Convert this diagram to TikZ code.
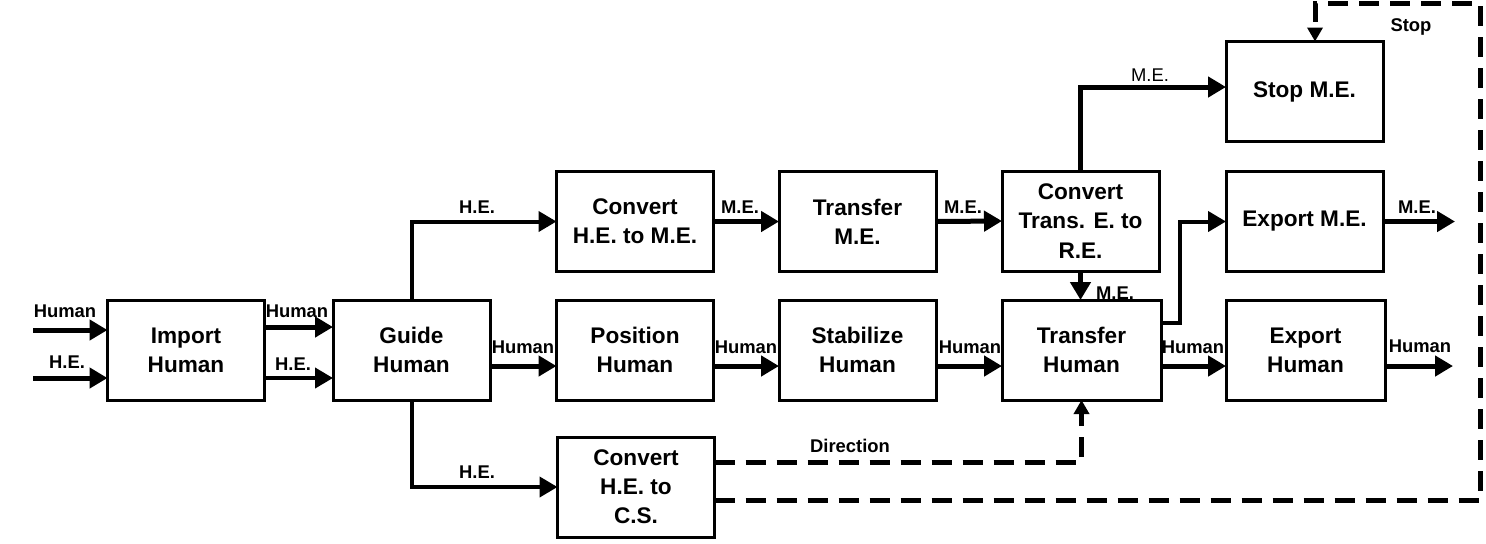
\documentclass[tikz,border=0pt]{standalone}
\usepackage{fontspec}
\setmainfont{Liberation Sans}
\usetikzlibrary{arrows.meta,calc}
\begin{document}
\begin{tikzpicture}[x=0.5pt,y=-0.5pt,
  fbox/.style={draw,line width=1.5pt,minimum width=78.5pt,minimum height=50pt,
    align=center,inner sep=0pt,outer sep=0pt,
    font=\bfseries\fontsize{11.3}{14.6}\selectfont},
  arr/.style={line width=2.5pt,-{Triangle[length=9pt,width=10pt]}},
  dsh/.style={line width=2.5pt,dash pattern=on 10pt off 5.5pt,-{Triangle[length=7pt,width=7.5pt]}},
  lbl/.style={inner sep=0pt,font=\bfseries\fontsize{9.2}{11}\selectfont},
  lblr/.style={inner sep=0pt,font=\fontsize{9.2}{11}\selectfont}]
\useasboundingbox (0,0) rectangle (1486,543);
% boxes
\node[fbox] (imp) at (186,350) {Import\\Human};
\node[fbox] (guide) at (411.5,350) {Guide\\Human};
\node[fbox] (c1) at (635,221.5) {Convert\\H.E. to M.E.};
\node[fbox] (tme) at (857.5,221.5) {Transfer\\M.E.};
\node[fbox] (ctr) at (1080.5,221) {Convert\\Trans. E. to\\R.E.};
\node[fbox] (stop) at (1304.5,91.5) {Stop M.E.};
\node[fbox] (exme) at (1304.5,221.5) {Export M.E.};
\node[fbox] (pos) at (635,350) {Position\\Human};
\node[fbox] (stab) at (857.5,350) {Stabilize\\Human};
\node[fbox,minimum width=79.5pt] (trh) at (1081.5,350) {Transfer\\Human};
\node[fbox,minimum width=79.5pt] (exh) at (1305.5,350) {Export\\Human};
\node[fbox] (cs) at (636,487) {Convert\\H.E. to\\C.S.};
% free ends
\coordinate (in1) at (33,330);
\coordinate (in2) at (33,378);
\coordinate (out1) at (1455,221.5);
\coordinate (out2) at (1453,366);
\coordinate (cnr) at (1480,3);
\coordinate (ctop) at (1315,3);
% inputs
\draw[arr] (in1) -- (in1 -| imp.west);
\node[lbl] (l1) at (65,311) {Human};
\draw[arr] (in2) -- (in2 -| imp.west);
\node[lbl] (l2) at (67,362) {H.E.};
% import -> guide
\draw[arr] ([yshift=11.5pt]imp.east) -- ([yshift=11.5pt]guide.west);
\node[lbl] (l3) at (297,311) {Human};
\draw[arr,line width=2pt] ([yshift=-14pt]imp.east) -- ([yshift=-14pt]guide.west);
\node[lbl] (l4) at (293,364) {H.E.};
% guide outputs
\draw[arr] ([yshift=-8pt]guide.east) -- ([yshift=-8pt]pos.west);
\node[lbl] (l5) at (523,347) {Human};
\draw[arr,line width=2pt] (guide.north) |- (c1.west);
\node[lbl] (l6) at (477,207) {H.E.};
\draw[arr,line width=2pt] (guide.south) |- (cs.west);
\node[lbl] (l7) at (477,472) {H.E.};
% top row
\draw[arr] (c1.east) -- (tme.west);
\node[lbl] (l8) at (740,207) {M.E.};
\draw[arr] (tme.east) -- (ctr.west);
\node[lbl] (l9) at (963,207) {M.E.};
\draw[arr] (ctr.north) |- ([yshift=2.25pt]stop.west);
\node[lblr] (l10) at (1150,75) {M.E.};
\draw[arr] (ctr.south) -- (ctr.south |- trh.north);
\node[lbl] (l11) at (1115,293) {M.E.};
\draw[arr,line width=2pt] ([yshift=13.5pt]trh.east) -- ++(19,0) |- (exme.west);
\draw[arr] (exme.east) -- (out1);
\node[lbl] (l12) at (1417,207) {M.E.};
% middle row
\draw[arr] ([yshift=-8pt]pos.east) -- ([yshift=-8pt]stab.west);
\node[lbl] (l13) at (746,347) {Human};
\draw[arr] ([yshift=-8pt]stab.east) -- ([yshift=-8pt]trh.west);
\node[lbl] (l14) at (970,347) {Human};
\draw[arr] ([yshift=-8pt]trh.east) -- ([yshift=-8pt]exh.west);
\node[lbl] (l15) at (1193,347) {Human};
\draw[arr] ([yshift=-8pt]exh.east) -- (out2);
\node[lbl] (l16) at (1420,346) {Human};
% dashed control lines
\draw[dsh] ([yshift=12.5pt]cs.east) -| (trh.south);
\node[lbl] (l17) at (850,446) {Direction};
\draw[dsh] ([yshift=-6.5pt]cs.east) -| (cnr) -- (ctop) -- (ctop |- stop.north);
\node[lbl] (l18) at (1411,27) {Stop};
\end{tikzpicture}
\end{document}
